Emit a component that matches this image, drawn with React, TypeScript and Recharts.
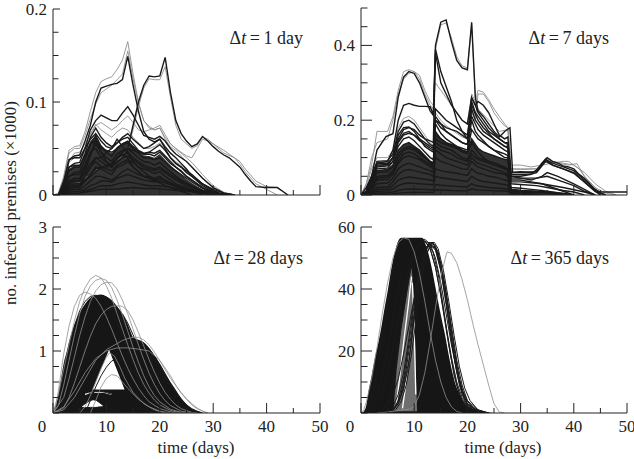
import React from 'react';
import { ComposedChart, Line, Area, XAxis, YAxis } from 'recharts';

type Pt = [number, number];
type Band = [number, number, number];

const FONT = "'Liberation Serif', 'Times New Roman', serif";
const INK = '#1a1a1a';
const GREY = '#8e8e8e';
const CORE = '#323232';

// ---------- tick arrays ----------
const xTicks = [0, 5, 10, 15, 20, 25, 30, 35, 40, 45, 50];
const xLabelTicks = [0, 10, 20, 30, 40, 50];
const dt1YTicks = [0, 0.025, 0.05, 0.075, 0.1, 0.125, 0.15, 0.175, 0.2];
const dt1YLabels = [0, 0.1, 0.2];
const dt7YTicks = [0, 0.05, 0.1, 0.15, 0.2, 0.25, 0.3, 0.35, 0.4, 0.45, 0.5];
const dt7YLabels = [0, 0.2, 0.4];
const dt28YTicks = [0, 0.25, 0.5, 0.75, 1, 1.25, 1.5, 1.75, 2, 2.25, 2.5, 2.75, 3];
const dt28YLabels = [1, 2, 3];
const dt365YTicks = [0, 5, 10, 15, 20, 25, 30, 35, 40, 45, 50, 55, 60];
const dt365YLabels = [20, 40, 60];

// ---------- Δt = 1 day ----------
const dt1Core: Band[] = [
  [1,0,0],[2,0,.008],[3,0,.028],[4,0,.032],[5,0,.032],[6,0,.044],[7,0,.058],[8,0,.064],[9,0,.054],[10,0,.048],[11,0,.045],[12,0,.052],[13,0,.056],[14,0,.058],[15,0,.052],[16,0,.046],[17,0,.042],[18,0,.042],[19,0,.04],[20,0,.044],[21,0,.038],[22,0,.032],[23,0,.027],[24,0,.022],[25,0,.017],[26,0,.013],[28,0,.006],[30,0,.002],[31,0,0],
];
const dt1Black: Pt[][] = [
  [[0,0],[1,0],[2,.015],[3,.038],[4,.042],[5,.043],[6,.058],[7,.075],[8,.1],[9,.115],[10,.117],[11,.119],[12,.12],[13,.124],[14,.149],[15,.118],[16,.09],[17,.068],[18,.06],[19,.057],[20,.06],[21,.052],[22,.045],[23,.04],[24,.034],[25,.028],[26,.02],[28,.01],[30,.004],[32,0]],
  [[0,0],[1,0],[2,.004],[3,.01],[4,.012],[5,.012],[6,.016],[7,.02],[8,.025],[9,.03],[10,.03],[11,.032],[12,.035],[13,.04],[14,.05],[15,.075],[16,.1],[17,.118],[18,.128],[19,.127],[20,.128],[21,.148],[22,.11],[23,.08],[24,.066],[25,.058],[26,.052],[27,.055],[28,.063],[29,.058],[30,.052],[31,.047],[32,.043],[33,.04],[34,.035],[35,.03],[36,.022],[37,.015],[38,.009],[40,.008],[42,.008],[43,.004],[44,0]],
  [[0,0],[1,0],[2,.01],[3,.03],[4,.034],[5,.035],[6,.05],[7,.07],[8,.08],[9,.086],[10,.083],[11,.08],[12,.08],[13,.088],[14,.095],[15,.086],[16,.075],[17,.064],[18,.062],[19,.06],[20,.063],[21,.058],[22,.05],[23,.044],[24,.04],[25,.036],[26,.03],[28,.018],[30,.008],[32,.002],[34,0]],
  [[0,0],[1,0],[2,.01],[3,.026],[4,.03],[5,.03],[6,.045],[7,.062],[8,.072],[9,.062],[10,.056],[11,.052],[12,.056],[13,.062],[14,.066],[15,.06],[16,.055],[17,.05],[18,.052],[19,.056],[20,.06],[21,.05],[22,.04],[23,.034],[24,.03],[25,.026],[26,.022],[28,.012],[30,.005],[32,0]],
  [[0,0],[1,0],[2,.008],[3,.02],[4,.024],[5,.025],[6,.038],[7,.054],[8,.064],[9,.052],[10,.046],[11,.042],[12,.05],[13,.055],[14,.058],[15,.052],[16,.047],[17,.043],[18,.044],[19,.042],[20,.046],[21,.04],[22,.034],[23,.03],[24,.025],[25,.02],[26,.016],[28,.008],[30,.003],[32,0]],
  [[0,0],[1,0],[2,.006],[3,.015],[4,.018],[5,.018],[6,.03],[7,.045],[8,.055],[9,.046],[10,.04],[11,.036],[12,.044],[13,.048],[14,.05],[15,.045],[16,.04],[17,.036],[18,.035],[19,.032],[20,.035],[21,.03],[22,.025],[23,.02],[24,.016],[25,.013],[26,.01],[28,.005],[30,.002],[31,0]],
  [[0,0],[1,0],[2,.005],[3,.012],[4,.015],[5,.015],[6,.026],[7,.042],[8,.06],[9,.046],[10,.036],[11,.03],[12,.04],[13,.044],[14,.04],[15,.03],[16,.025],[17,.02],[18,.02],[19,.018],[20,.02],[21,.015],[22,.012],[23,.01],[24,.008],[25,.006],[26,.004],[28,0]],
  [[0,0],[1,0],[2,.004],[3,.01],[4,.012],[5,.012],[6,.02],[7,.03],[8,.036],[9,.03],[10,.028],[11,.026],[12,.032],[13,.035],[14,.038],[15,.035],[16,.03],[17,.028],[18,.026],[19,.023],[20,.025],[21,.02],[22,.016],[23,.012],[24,.01],[25,.008],[26,.006],[28,.003],[30,0]],
  [[0,0],[1,0],[2,.003],[3,.008],[4,.01],[5,.01],[6,.02],[7,.03],[8,.04],[9,.04],[10,.046],[11,.05],[12,.06],[13,.052],[14,.046],[15,.036],[16,.03],[17,.025],[18,.02],[19,.016],[20,.013],[21,.01],[22,.008],[23,.006],[24,.004],[25,.002],[26,0]],
  [[0,0],[1,0],[2,.003],[3,.006],[4,.008],[5,.008],[6,.015],[7,.022],[8,.03],[9,.028],[10,.025],[11,.022],[12,.03],[13,.032],[14,.036],[15,.03],[16,.025],[17,.02],[18,.018],[19,.015],[20,.018],[21,.015],[22,.012],[23,.01],[24,.008],[25,.006],[26,.004],[28,.002],[30,0]],
  [[0,0],[1,0],[2,.002],[3,.005],[4,.006],[5,.006],[6,.01],[7,.015],[8,.02],[9,.02],[10,.018],[11,.016],[12,.02],[13,.025],[14,.028],[15,.025],[16,.022],[17,.02],[18,.018],[19,.016],[20,.018],[21,.016],[22,.013],[23,.01],[24,.008],[25,.006],[26,.005],[28,.003],[30,.001],[31,0]],
  [[0,0],[1,0],[2,.001],[3,.003],[4,.004],[5,.004],[6,.006],[7,.01],[8,.012],[9,.015],[10,.015],[11,.014],[12,.018],[13,.02],[14,.022],[15,.02],[16,.018],[17,.016],[18,.015],[19,.014],[20,.015],[21,.013],[22,.011],[23,.009],[24,.007],[25,.005],[26,.004],[28,.002],[30,0]],
  [[0,0],[1,0],[2,.001],[3,.002],[4,.002],[5,.002],[6,.004],[7,.006],[8,.008],[9,.01],[10,.01],[11,.01],[12,.012],[13,.013],[14,.014],[15,.013],[16,.012],[17,.011],[18,.01],[19,.01],[20,.01],[21,.009],[22,.008],[23,.007],[24,.006],[25,.005],[26,.004],[28,.003],[30,.002],[32,.001],[34,0]],
  [[0,0],[2,0],[3,.001],[5,.002],[7,.004],[9,.006],[11,.006],[13,.007],[15,.008],[17,.007],[19,.007],[21,.006],[23,.005],[25,.004],[27,.003],[30,.002],[34,0]],
  [[0,0],[1,0],[2,.006],[3,.02],[4,.022],[5,.022],[6,.032],[7,.046],[8,.05],[9,.04],[10,.035],[11,.032],[12,.04],[13,.043],[14,.046],[15,.04],[16,.036],[17,.032],[18,.03],[19,.028],[20,.03],[21,.026],[22,.022],[23,.018],[24,.015],[25,.012],[26,.009],[28,.005],[30,.002],[31,0]],
  [[0,0],[1,0],[2,.012],[3,.038],[4,.04],[5,.04],[6,.05],[7,.06],[8,.066],[9,.058],[10,.052],[11,.05],[12,.056],[13,.06],[14,.062],[15,.055],[16,.048],[17,.045],[18,.046],[19,.045],[20,.048],[21,.042],[22,.036],[23,.03],[24,.026],[25,.02],[26,.016],[28,.008],[30,.003],[32,0]],
  [[0,0],[1,0],[2,.003],[3,.008],[4,.01],[5,.01],[6,.016],[7,.022],[8,.028],[9,.03],[10,.032],[11,.034],[12,.04],[13,.046],[14,.05],[15,.048],[16,.046],[17,.044],[18,.046],[19,.05],[20,.054],[21,.048],[22,.04],[23,.034],[24,.03],[25,.024],[26,.02],[28,.012],[30,.006],[32,.002],[34,0]],
  [[0,0],[1,0],[2,.008],[3,.03],[4,.032],[5,.032],[6,.042],[7,.055],[8,.058],[9,.05],[10,.048],[11,.046],[12,.05],[13,.054],[14,.056],[15,.05],[16,.045],[17,.04],[18,.04],[19,.038],[20,.04],[21,.035],[22,.03],[23,.026],[24,.022],[25,.018],[26,.014],[28,.007],[30,.002],[31,0]],
  [[0,0],[1,0],[2,.004],[3,.014],[4,.016],[5,.016],[6,.024],[7,.034],[8,.04],[9,.036],[10,.032],[11,.03],[12,.036],[13,.04],[14,.042],[15,.038],[16,.034],[17,.03],[18,.028],[19,.026],[20,.028],[21,.024],[22,.02],[23,.016],[24,.013],[25,.01],[26,.008],[28,.004],[30,0]],
];
const dt1Grey: Pt[][] = [
  [[0,0],[1,0],[2,.004],[3,.01],[4,.012],[5,.013],[6,.018],[7,.022],[8,.027],[9,.03],[10,.032],[11,.034],[12,.036],[13,.042],[14,.05],[15,.07],[16,.095],[17,.115],[18,.125],[19,.124],[20,.124],[21,.138],[22,.105],[23,.075],[24,.06],[25,.055],[26,.05],[27,.053],[28,.062],[29,.06],[30,.055],[32,.045],[34,.04],[35,.036],[36,.028],[38,.015],[40,.009],[42,.008],[44,0]],
  [[0,0],[1,.002],[2,.02],[3,.048],[4,.052],[5,.053],[6,.068],[7,.09],[8,.11],[9,.122],[10,.125],[11,.127],[12,.135],[13,.145],[14,.165],[15,.13],[16,.1],[17,.08],[18,.072],[19,.07],[20,.072],[21,.06],[22,.052],[23,.048],[24,.042],[25,.036],[26,.03],[28,.018],[30,.008],[32,.002],[34,0]],
  [[0,0],[1,0],[2,.012],[3,.035],[4,.04],[5,.04],[6,.052],[7,.065],[8,.075],[9,.078],[10,.074],[11,.07],[12,.074],[13,.08],[14,.085],[15,.078],[16,.07],[17,.068],[18,.07],[19,.072],[20,.075],[21,.065],[22,.055],[23,.05],[24,.046],[25,.042],[26,.04],[27,.05],[28,.06],[29,.058],[30,.055],[32,.048],[34,.04],[35,.033],[36,.025],[38,.012],[40,.006],[42,0]],
  [[0,0],[1,0],[2,.012],[3,.036],[4,.045],[5,.046],[6,.055],[7,.066],[8,.076],[9,.07],[10,.066],[11,.062],[12,.068],[13,.072],[14,.07],[15,.062],[16,.056],[17,.05],[18,.05],[19,.052],[20,.056],[21,.048],[22,.04],[23,.036],[24,.032],[25,.028],[26,.022],[28,.012],[30,.005],[32,0]],
  [[0,0],[1,0],[2,.018],[3,.045],[4,.05],[5,.05],[6,.064],[7,.082],[8,.098],[9,.11],[10,.114],[11,.118],[12,.124],[13,.13],[14,.155],[15,.125],[16,.098],[17,.08],[18,.074],[19,.07],[20,.072],[21,.062],[22,.055],[23,.05],[24,.045],[25,.04],[26,.035],[28,.022],[30,.01],[32,.003],[34,0]],
];

// ---------- Δt = 7 days ----------
const dt7Core: Band[] = [
  [0,0,0],[1,0,.006],[2,0,.035],[3,0,.065],[5,0,.068],[6,0,.08],[7,0,.12],[8,0,.135],[9,0,.14],[10,0,.13],[11,0,.12],[12,0,.105],[13,0,.09],[13.6,0,.085],[14,0,.17],[15,0,.15],[16,0,.14],[17,0,.135],[18,0,.13],[19,0,.12],[20,0,.115],[20.8,0,.15],[21.5,0,.135],[22,0,.125],[23,0,.115],[24,0,.11],[25,0,.105],[26,0,.1],[27,0,.095],[27.6,0,.095],[28.2,0,.015],[30,0,.012],[33,0,.01],[35,0,.008],[38,0,.004],[40,0,0],
];
const dt7Black: Pt[][] = [
  [[0,0],[1,.02],[2,.05],[3,.12],[4.7,.156],[6,.164],[7,.262],[8,.315],[9,.33],[10,.325],[11,.3],[12,.262],[13,.225],[13.6,.213],[14,.4],[15,.462],[16,.468],[17,.41],[18,.36],[19,.34],[20,.335],[20.8,.462],[21.5,.26],[22,.225],[23,.21],[24,.19],[25,.17],[26,.155],[27,.17],[28,.18],[28.5,.06],[30,.062],[32,.06],[33,.065],[34,.085],[35,.1],[36,.09],[37,.085],[38,.078],[39,.075],[40,.07],[41,.055],[42,.045],[43,.03],[44,.012],[45,.005],[46,0]],
  [[0,0],[1,.01],[2,.04],[3,.085],[5,.09],[6,.12],[7,.2],[8,.24],[9,.245],[10,.24],[11,.237],[12,.237],[13,.236],[13.6,.215],[14,.38],[15,.3],[16,.27],[17,.24],[18,.22],[19,.2],[20,.19],[20.8,.26],[21.5,.24],[22,.25],[23,.24],[24,.22],[25,.19],[26,.16],[27,.15],[27.6,.155],[28.2,.05],[30,.045],[32,.04],[34,.05],[35,.06],[37,.05],[40,.03],[42,.015],[44,0]],
  [[0,0],[1,.01],[2,.05],[3,.085],[5,.085],[6,.1],[7,.16],[8,.18],[9,.182],[10,.17],[11,.15],[12,.13],[13,.12],[13.6,.115],[14,.21],[15,.19],[16,.17],[17,.16],[18,.15],[19,.14],[20,.135],[20.8,.25],[21.5,.22],[22,.21],[23,.19],[24,.17],[25,.16],[26,.15],[27,.14],[27.6,.14],[28.2,.06],[30,.06],[33,.062],[34.7,.095],[36,.085],[38,.075],[40,.065],[42,.04],[44,.015],[45,.008],[50,.008]],
  [[0,0],[1,.005],[2,.04],[3,.075],[5,.078],[6,.09],[7,.13],[8,.15],[9,.155],[10,.145],[11,.13],[12,.115],[13,.1],[13.6,.095],[14,.19],[15,.165],[16,.15],[17,.14],[18,.13],[19,.125],[20,.12],[20.8,.2],[21.5,.17],[22,.16],[23,.145],[24,.13],[25,.12],[26,.11],[27,.1],[27.6,.1],[28.2,.03],[30,.028],[33,.025],[35,.02],[38,.012],[40,.008],[42,0]],
  [[0,0],[1,.005],[2,.03],[3,.065],[5,.068],[6,.08],[7,.12],[8,.135],[9,.14],[10,.13],[11,.12],[12,.105],[13,.09],[13.6,.085],[14,.17],[15,.15],[16,.14],[17,.135],[18,.13],[19,.12],[20,.115],[20.8,.15],[21.5,.135],[22,.125],[23,.115],[24,.11],[25,.105],[26,.1],[27,.095],[27.6,.095],[28.2,.015],[30,.012],[33,.01],[35,.008],[38,.004],[40,0]],
  [[0,0],[1,.004],[2,.02],[3,.05],[5,.052],[6,.065],[7,.1],[8,.12],[9,.125],[10,.12],[11,.11],[12,.1],[13,.085],[13.6,.08],[14,.15],[15,.14],[16,.135],[17,.13],[18,.125],[19,.115],[20,.11],[20.8,.14],[21.5,.125],[22,.115],[23,.1],[24,.09],[25,.085],[26,.08],[27,.07],[27.6,.065],[28.2,.01],[30,.008],[34,.006],[38,0]],
  [[0,0],[1,.003],[2,.018],[3,.04],[5,.042],[6,.055],[7,.085],[8,.1],[9,.105],[10,.1],[11,.095],[12,.085],[13,.075],[13.6,.07],[14,.14],[15,.13],[16,.125],[17,.12],[18,.11],[19,.1],[20,.095],[20.8,.12],[21.5,.11],[22,.1],[23,.095],[24,.09],[25,.085],[26,.08],[27,.075],[27.6,.07],[28.2,.02],[30,.018],[32,.015],[34,.012],[36,.008],[40,0]],
  [[0,0],[1,.003],[2,.015],[3,.03],[5,.032],[6,.045],[7,.07],[8,.08],[9,.085],[10,.08],[11,.075],[12,.07],[13,.065],[13.6,.06],[14,.12],[15,.11],[16,.1],[17,.095],[18,.09],[19,.085],[20,.08],[20.8,.1],[21.5,.09],[22,.085],[23,.08],[24,.075],[25,.07],[26,.065],[27,.06],[27.6,.055],[28.2,.012],[30,.01],[34,.008],[38,0]],
  [[0,0],[1,.002],[2,.01],[3,.02],[5,.022],[6,.035],[7,.055],[8,.065],[9,.068],[10,.065],[11,.062],[12,.058],[13,.055],[13.6,.05],[14,.1],[15,.09],[16,.085],[17,.08],[18,.075],[19,.07],[20,.068],[20.8,.09],[21.5,.08],[22,.075],[23,.07],[24,.065],[25,.06],[26,.058],[27,.055],[27.6,.05],[28.2,.008],[30,.006],[34,0]],
  [[0,0],[1,.002],[2,.008],[3,.015],[5,.016],[6,.025],[7,.04],[8,.045],[9,.048],[10,.046],[11,.044],[12,.042],[13,.04],[13.6,.038],[14,.07],[15,.065],[16,.062],[17,.06],[18,.058],[19,.055],[20,.052],[20.8,.07],[21.5,.062],[22,.058],[23,.055],[24,.05],[25,.048],[26,.045],[27,.04],[27.6,.038],[28.2,.005],[32,0]],
  [[0,0],[1,.001],[2,.005],[3,.01],[5,.011],[6,.016],[7,.025],[8,.03],[9,.032],[10,.031],[11,.03],[12,.029],[13,.028],[13.6,.027],[14,.05],[15,.046],[16,.044],[17,.042],[18,.04],[19,.038],[20,.036],[20.8,.05],[21.5,.044],[22,.04],[23,.036],[24,.034],[25,.032],[26,.03],[27,.028],[27.6,.026],[28.2,.004],[32,0]],
  [[0,0],[1,.001],[2,.003],[3,.005],[5,.006],[6,.008],[7,.012],[8,.015],[9,.016],[10,.016],[11,.015],[12,.015],[13,.014],[13.6,.014],[14,.028],[15,.026],[16,.025],[17,.024],[18,.023],[19,.022],[20,.021],[20.8,.03],[21.5,.026],[22,.024],[24,.02],[26,.018],[27.6,.016],[28.2,.003],[32,0]],
  [[0,0],[2,.001],[3,.002],[6,.003],[7,.005],[9,.007],[13.6,.007],[14,.014],[17,.012],[20,.011],[20.8,.016],[22,.013],[27.6,.01],[28.2,.002],[32,0]],
  [[0,0],[1,.01],[2,.04],[3,.08],[5,.08],[6,.1],[7,.15],[8,.175],[9,.18],[10,.175],[11,.16],[12,.15],[13,.145],[13.6,.14],[14,.39],[15,.33],[16,.29],[17,.25],[18,.2],[19,.17],[20,.15],[20.8,.26],[21.5,.24],[22,.22],[23,.2],[24,.18],[25,.165],[26,.15],[27,.14],[27.6,.135],[28.2,.05],[30,.05],[32,.055],[34,.08],[34.7,.095],[36,.08],[38,.07],[40,.06],[42,.035],[44,.01],[46,0]],
  [[0,0],[1,.004],[2,.03],[3,.06],[5,.062],[6,.075],[7,.11],[8,.125],[9,.13],[10,.125],[11,.115],[12,.1],[13,.09],[13.6,.085],[14,.16],[15,.15],[16,.14],[17,.13],[18,.125],[19,.12],[20,.115],[20.8,.175],[21.5,.16],[22,.15],[23,.14],[24,.13],[25,.12],[26,.115],[27,.11],[27.6,.105],[28.2,.04],[30,.04],[32,.035],[34,.03],[36,.02],[38,.01],[40,0]],
  [[0,0],[1,.003],[2,.02],[3,.045],[5,.048],[6,.06],[7,.09],[8,.11],[9,.115],[10,.11],[11,.1],[12,.09],[13,.08],[13.6,.075],[14,.13],[15,.12],[16,.115],[17,.11],[18,.1],[19,.095],[20,.09],[20.8,.11],[21.5,.1],[22,.095],[23,.09],[24,.085],[25,.08],[26,.075],[27,.07],[27.6,.068],[28.2,.015],[30,.012],[34,.008],[38,0]],
  [[0,0],[1,.01],[2,.05],[3,.09],[5,.092],[6,.11],[7,.17],[8,.195],[9,.2],[10,.19],[11,.17],[12,.15],[13,.135],[13.6,.13],[14,.2],[15,.18],[16,.17],[17,.16],[18,.15],[19,.14],[20,.135],[20.8,.23],[21.5,.2],[22,.19],[23,.17],[24,.16],[25,.15],[26,.14],[27,.13],[27.6,.13],[28.2,.055],[30,.055],[32,.056],[33,.06],[34.7,.09],[36,.08],[38,.07],[40,.058],[42,.035],[44,.01],[45,0]],
  [[0,0],[1,.008],[2,.045],[3,.08],[5,.082],[6,.1],[7,.145],[8,.165],[9,.17],[10,.16],[11,.145],[12,.135],[13,.125],[13.6,.12],[14,.23],[15,.215],[16,.2],[17,.19],[18,.18],[19,.17],[20,.16],[20.8,.24],[21.5,.215],[22,.2],[23,.18],[24,.165],[25,.15],[26,.14],[27,.13],[27.6,.125],[28.2,.045],[30,.045],[33,.045],[35,.05],[38,.035],[40,.025],[42,.01],[44,0]],
  [[0,0],[1,.006],[2,.035],[3,.07],[5,.072],[6,.09],[7,.14],[8,.16],[9,.165],[10,.16],[11,.15],[12,.14],[13,.13],[13.6,.125],[14,.2],[15,.19],[16,.18],[17,.175],[18,.17],[19,.16],[20,.15],[20.8,.21],[21.5,.19],[22,.175],[23,.16],[24,.15],[25,.14],[26,.13],[27,.12],[27.6,.115],[28.2,.035],[30,.035],[34,.03],[38,.02],[42,.008],[44,0]],
];
const dt7Grey: Pt[][] = [
  [[0,0],[1,.03],[2,.08],[3,.17],[5,.17],[6,.21],[7,.28],[8,.33],[9,.335],[10,.33],[11,.31],[12,.27],[13,.24],[13.6,.23],[14,.39],[15,.455],[16,.46],[17,.42],[18,.37],[19,.345],[20,.34],[20.8,.455],[21.5,.25],[22,.23],[24,.2],[26,.17],[27.6,.175],[28.2,.07],[30,.07],[33,.07],[34.7,.098],[36,.09],[38,.085],[40,.08],[41,.07],[42,.05],[44,.02],[45,0]],
  [[0,0],[1,.02],[2,.07],[3,.1],[5,.1],[6,.12],[7,.18],[8,.205],[9,.21],[10,.2],[11,.18],[12,.16],[13,.14],[13.6,.13],[14,.22],[15,.2],[16,.185],[17,.175],[18,.165],[19,.155],[20,.15],[20.8,.22],[21.5,.2],[22,.27],[23,.27],[24,.25],[25,.22],[26,.2],[27,.185],[27.6,.18],[28.2,.07],[30,.068],[33,.07],[35,.09],[37,.085],[39,.08],[40.6,.084],[42,.05],[44,.02],[46,.005],[48,0]],
  [[0,0],[1,.03],[2,.1],[3,.14],[5,.15],[6,.2],[7,.27],[8,.31],[9,.325],[10,.33],[11,.32],[12,.28],[13,.25],[13.6,.24],[14,.3],[15,.28],[16,.26],[17,.24],[18,.22],[19,.2],[20,.19],[20.8,.27],[21.5,.25],[22,.28],[23,.275],[24,.255],[25,.23],[26,.21],[27,.19],[27.6,.18],[28.2,.08],[30,.08],[32,.075],[34,.08],[36,.085],[38,.09],[39,.09],[40,.08],[42,.06],[44,.03],[46,.01],[48,0]],
];

// ---------- Δt = 28 days ----------
const dt28Mass: Band[] = [
  [0,0,0],[0.3,0,0.05],[1,0,0.3],[1.5,0,0.55],[2,0,0.8],[2.6,0,1.0],[3,0,1.15],[4,0,1.42],[5,0,1.62],[6,0,1.76],[7,0,1.86],[8,0,1.9],[9,0,1.91],[10,0,1.88],[11,0,1.82],[12,0,1.72],[13,0,1.6],[14,0,1.43],[14.5,0,1.32],[15,0,1.22],[16,0,1.18],[17,0,1.14],[18,0,1.05],[19,0,0.93],[20,0,0.8],[21,0,0.65],[22,0,0.5],[23,0,0.37],[24,0,0.24],[25,0,0.14],[26,0,0.07],[27,0,0.03],[28,0,0],
];
const dt28Hole: Band[] = [[7.4,0.38,0.38],[10.5,0.38,1.02],[13.4,0.38,0.38]];
const dt28Lens: Band[] = [[5.3,0.1,0.1],[6.3,0.09,0.17],[7.5,0.09,0.21],[8.5,0.1,0.18],[9.4,0.11,0.11]];
const dt28Black: Pt[][] = [
  [[0,0],[1,.2],[2,.62],[3,1.05],[4,1.4],[5,1.65],[6,1.8],[7,1.88],[8,1.9],[9,1.88],[10,1.8],[11,1.65],[12,1.45],[13,1.22],[14,1.0],[15,.78],[16,.58],[17,.42],[18,.28],[19,.18],[20,.1],[22,.03],[24,0]],
  [[0,0],[1,.1],[2,.4],[3,.78],[4,1.1],[5,1.4],[6,1.6],[7,1.75],[8,1.84],[9,1.88],[10,1.87],[11,1.8],[12,1.66],[13,1.48],[14,1.25],[15,1.02],[16,.8],[17,.6],[18,.42],[19,.28],[20,.18],[21,.1],[22,.05],[24,.01],[25,0]],
  [[0,0],[2,.1],[3,.3],[4,.55],[5,.8],[6,1.05],[7,1.25],[8,1.42],[9,1.55],[10,1.64],[11,1.69],[12,1.68],[13,1.6],[14,1.45],[15,1.26],[16,1.05],[17,.84],[18,.64],[19,.46],[20,.32],[21,.2],[22,.12],[24,.03],[26,0]],
  [[0,0],[2,.05],[4,.25],[6,.55],[8,.85],[10,1.05],[12,1.12],[13,1.14],[14,1.15],[15,1.15],[16,1.15],[17,1.12],[18,1.04],[19,.92],[20,.78],[21,.62],[22,.47],[23,.34],[24,.22],[25,.13],[26,.07],[27,.03],[28,0]],
  [[0,0],[1,.05],[2,.2],[3,.4],[4,.6],[5,.78],[6,.93],[7,1.05],[8,1.14],[9,1.2],[10,1.22],[11,1.22],[12,1.2],[13,1.18],[14,1.17],[15,1.18],[16,1.16],[17,1.1],[18,1.0],[19,.88],[20,.74],[21,.6],[22,.46],[23,.33],[24,.21],[25,.12],[26,.05],[27,.02],[28,0]],
  [[6,0],[7,.2],[8,.42],[9,.6],[10,.74],[11,.84],[12,.88],[13,.86],[14,.78],[16,.55],[18,.32],[20,.15],[22,.05],[24,0]],
  [[2,0],[3,.05],[4,.12],[5,.2],[6,.27],[7,.32],[8,.35],[9,.35],[10,.33],[11,.3],[12,.26],[13,.21],[14,.16],[15,.12],[16,.08],[18,.03],[20,0]],
  [[3,0],[4,.03],[5,.08],[6,.15],[7,.2],[7.5,.215],[8,.21],[9,.15],[10,.09],[11,.05],[12,.02],[14,0]],
  [[3,0],[4,.02],[5,.06],[6,.085],[7,.09],[8,.09],[9,.095],[10,.09],[11,.07],[12,.05],[14,.02],[16,0]],
];
const dt28Grey: Pt[][] = [
  [[0,0],[1,.3],[2,.7],[3,1.1],[4,1.48],[5,1.8],[6,2.02],[7,2.16],[8,2.22],[9,2.18],[10,2.05],[11,1.85],[12,1.6],[13,1.35],[14,1.1],[15,.86],[16,.64],[17,.46],[18,.32],[19,.21],[20,.13],[22,.04],[24,0]],
  [[0,0],[1,.12],[2,.45],[3,.85],[4,1.25],[5,1.6],[6,1.88],[7,2.05],[8,2.14],[9,2.17],[10,2.14],[11,2.02],[12,1.82],[13,1.58],[14,1.32],[15,1.06],[16,.82],[17,.6],[18,.42],[19,.28],[20,.18],[22,.06],[24,.01],[25,0]],
  [[0,0],[2,.25],[3,.55],[4,.9],[5,1.25],[6,1.55],[7,1.8],[8,1.97],[9,2.07],[10,2.11],[11,2.1],[12,2.0],[13,1.82],[14,1.6],[15,1.35],[16,1.1],[17,.86],[18,.64],[19,.46],[20,.31],[21,.2],[22,.12],[24,.03],[26,0]],
  [[0,0],[2,.08],[3,.25],[4,.48],[5,.74],[6,1.0],[7,1.24],[8,1.44],[9,1.58],[10,1.67],[11,1.72],[12,1.73],[13,1.72],[14,1.65],[15,1.5],[16,1.3],[17,1.08],[18,.86],[19,.66],[20,.48],[21,.33],[22,.22],[23,.13],[24,.07],[26,.01],[27,0]],
  [[0,0],[2,.05],[4,.25],[6,.55],[8,.85],[10,1.02],[12,1.12],[13,1.17],[14,1.2],[15,1.22],[16,1.22],[17,1.18],[18,1.1],[19,.98],[20,.84],[21,.7],[22,.56],[23,.44],[24,.33],[25,.23],[26,.15],[27,.08],[28,.03],[29,0]],
  [[0,0],[2,.1],[4,.35],[6,.65],[8,.88],[10,1.0],[12,1.05],[14,1.05],[16,1.03],[18,1.0],[20,.85],[22,.6],[23,.45],[24,.32],[25,.22],[26,.13],[27,.07],[28,.03],[29,0]],
  [[0,0],[0.5,.1],[1,.35],[1.5,.65],[2,.95],[3,1.4],[4,1.72],[5,1.9],[6,1.95],[7,1.92],[8,1.85],[9,1.72],[10,1.55],[11,1.35],[12,1.13],[13,.92],[14,.72],[15,.55],[16,.4],[17,.28],[18,.18],[20,.07],[22,.02],[23,0]],
  [[5,0],[6,.1],[7,.28],[8,.5],[9,.72],[10,.9],[10.6,.97],[11.5,.92],[12.5,.75],[13.5,.55],[15,.33],[17,.15],[19,.05],[21,0]],
  [[7,0],[8,.2],[9,.42],[10,.56],[11,.62],[12,.6],[13,.5],[14,.4],[16,.22],[18,.1],[20,.03],[22,0]],
];
const dt28Gaps: Pt[][] = [
  [[6,.3],[7.5,.335],[9.5,.335],[11,.3]],
];

// ---------- Δt = 365 days ----------
const dt365Mass: Band[] = [
  [0,0,0],[0.5,0,0.5],[1,0,2.5],[1.4,0,6.9],[2,0,12],[2.6,0,17.7],[3.3,0,23],[3.9,0,28.4],[4.5,0,34.5],[5.1,0,40.2],[5.6,0,45.5],[6.1,0,50],[6.6,0,53.5],[7,0,55.5],[7.6,0,56.5],[11.5,0,56.5],[12,0,55],[12.5,0,52.5],[13.3,0,46.8],[14,0,40.5],[14.5,0,35.9],[15.2,0,30],[15.8,0,25.2],[16.4,0,19.5],[17,0,14.4],[17.6,0,10.2],[18.3,0,6.9],[19.2,0,3.8],[20.2,0,2],[21.5,0,1],[22.7,0,0.5],[24,0,0.15],[25,0,0],
];
// sparse region between the early and the late runs (filled with thin lines in the original)
const dt365Wedge: Band[] = [
  [6.1,0.6,0.6],[6.7,0.6,14],[7.6,0.6,27],[8.6,0.6,38],[9.5,0.6,47],[9.8,0.6,41],[10.1,0.6,27],[10.35,0.6,11],[10.55,0.6,0.6],
];
const dt365Gaps: Pt[][] = [
  [[6.6,2],[7.3,12],[8.1,24],[8.9,35],[9.5,44]],
  [[9.65,42],[9.9,32],[10.1,20],[10.3,6]],
  [[7.8,1.5],[8.4,9],[9,19],[9.4,28]],
];
const dt365Black: Pt[][] = [
  [[0.5,0],[1.5,2],[2.5,8],[3.5,18],[4.5,30],[5.5,42],[6.5,51],[7.5,55.5],[9,56],[11,56],[12.5,55],[13.5,52],[14.5,45],[15.5,34],[16.5,22],[17.5,12],[18.5,6],[19.5,2.5],[21,.8],[23,0]],
  [[1,0],[2,1],[3,3],[4,7],[5,13],[6,21],[7,30],[8,39],[9,46.5],[10,52],[11,55],[12,55.5],[13,53],[14,47],[15,38],[16,28],[17,18],[18,10],[19,5],[20,2],[22,.3],[23,0]],
  [[1,0],[2,2],[3,6],[4,12],[5,20],[6,30],[7,40],[8,48],[9,53],[10,55.5],[11,56],[12,56],[13,54.5],[14,50],[15,42],[16,32],[17,22],[18,13.5],[19,7.5],[20,4],[21,2],[22,.8],[24,0]],
  [[4,0],[5,.5],[6,2],[7,6],[8,13],[9,24],[10,37],[11,47],[12,53],[13,55],[14,53],[15,46],[16,35],[17,23],[18,13],[19,6],[20,2.5],[22,.5],[24,0]],
  [[5,0],[6,1],[7,4],[8,11],[9,22],[10,35],[11,46],[12,52.5],[13,55],[14,54],[15,48],[16,38],[17,26],[18,15],[19,7],[20,3],[22,.5],[24,0]],
  [[5.5,0],[6.5,1],[7.5,3.5],[8.5,9],[9.5,19],[10.5,32],[11.5,44],[12.5,52],[13.5,55],[14.5,52],[15.5,44],[16.5,33],[17.5,21],[18.5,11],[19.5,5],[21,1.5],[23,0]],
  [[5,0],[6,.8],[7,3],[8,8],[8.8,14],[9.6,25],[10.4,38],[11.2,47],[12,52],[13,54.5],[14,52.5],[15,46],[16,36],[17,24],[18,14],[19,7],[20,3],[22,.6],[24,0]],
  [[3,0],[4,1],[5,3],[5.6,6],[6.2,12],[7,22],[8,33],[9,44],[10,51],[11,54.5],[12,55.5],[13,53],[14,47],[15,38],[16,27],[17,17],[18,9],[19,4],[21,1],[23,0]],
  [[3,0],[4,1],[5,2.5],[6,6],[7,11],[8,19],[9,28],[10,37],[11,45],[12,51],[12.8,55],[13.8,55],[14.5,53],[15.5,46],[16.5,36],[17.5,25],[18.5,15],[19.5,8],[20.5,4],[22,1],[24,0]],
  [[5,0],[6,1],[7,3],[8,8],[9,17],[10,30],[11,42],[12,50],[13,54],[14,53],[15,48],[16,39],[17,28],[18,17],[19,9],[20,4],[22,1],[24,0]],
  [[4.5,0],[5.5,.5],[6.5,2],[7.5,6],[8.5,14],[9.5,26],[10.5,39],[11.5,49],[12.5,54],[13.5,55],[14.5,51],[15.5,42],[16.5,30],[17.5,18],[18.5,9],[19.5,4],[21,1],[23,0]],
];
const dt365Grey: Pt[][] = [
  [[3,0],[5,.3],[7,.8],[9,1.2],[10,2],[11,6],[12,13],[13,23],[14,34],[15,44],[16,51],[16.2,52],[17,51.5],[18,48.5],[19,43],[20,36.5],[21,29],[22,22],[23,15.5],[24,9],[25,3],[26,.3],[27,0]],
  [[0,0],[0.5,1],[1,3.5],[2,11],[3,21],[4,32],[5,42],[6,50],[7,55],[8,56.5],[9,56],[10,52],[11,45],[12,36],[13,26],[14,17],[15,10],[16,5],[17,2],[18,.5],[19,0]],
];

// ---------- helpers ----------
const toRows = (pts: Pt[]) => pts.map(([t, v]) => ({ t, v }));
const toBand = (rows: Band[]) => rows.map(([t, lo, hi]) => ({ t, r: [lo, hi] }));

const lines = (curves: Pt[][], color: string, width: number, prefix: string) =>
  curves.map((c, i) => (
    <Line
      key={prefix + i}
      data={toRows(c)}
      dataKey="v"
      type="linear"
      stroke={color}
      strokeWidth={width}
      dot={false}
      activeDot={false}
      isAnimationActive={false}
    />
  ));

const band = (rows: Band[], fill: string, key: string, curve: 'linear' | 'monotone') => (
  <Area
    key={key}
    data={toBand(rows)}
    dataKey="r"
    type={curve}
    stroke="none"
    fill={fill}
    fillOpacity={1}
    dot={false}
    activeDot={false}
    isAnimationActive={false}
  />
);

const makeXTick = (showLabels: boolean) => (props: any) => {
  const { x, y, payload } = props;
  const v = payload.value as number;
  const major = v % 10 === 0;
  return (
    <g>
      <line x1={x} x2={x} y1={y} y2={y - (major ? 10 : 5)} stroke="#222" strokeWidth={1} />
      {showLabels && xLabelTicks.includes(v) && (
        <text x={x + (v === 0 ? -11 : 0)} y={y + 19} textAnchor="middle" fontSize={17} fontFamily={FONT} fill="#222">
          {String(v)}
        </text>
      )}
    </g>
  );
};

const makeYTick = (labels: number[], majorLen: number, minorLen: number) => (props: any) => {
  const { x, y, payload } = props;
  const v = payload.value as number;
  const major = labels.includes(v);
  return (
    <g>
      <line x1={x} x2={x + (major ? majorLen : minorLen)} y1={y} y2={y} stroke="#222" strokeWidth={1} />
      {major && (
        <text x={x - 6} y={y + 6} textAnchor="end" fontSize={17} fontFamily={FONT} fill="#222">
          {String(v)}
        </text>
      )}
    </g>
  );
};

type PanelProps = {
  left: number; top: number; width: number; height: number;
  margin: { top: number; right: number; bottom: number; left: number };
  xHeight: number; showXLabels: boolean;
  yDomain: [number, number]; yTicks: number[]; yLabels: number[];
  majorLen: number; minorLen: number;
  children: React.ReactNode;
};

function Panel(p: PanelProps) {
  return (
    <div style={{ position: 'absolute', left: p.left, top: p.top }}>
      <ComposedChart width={p.width} height={p.height} margin={p.margin}>
        <XAxis
          dataKey="t"
          type="number"
          domain={[0, 50]}
          ticks={xTicks}
          interval={0}
          allowDataOverflow
          height={p.xHeight}
          tickSize={0}
          tickMargin={0}
          tickLine={false}
          axisLine={{ stroke: '#222', strokeWidth: 1 }}
          tick={makeXTick(p.showXLabels)}
        />
        <YAxis
          type="number"
          domain={p.yDomain}
          ticks={p.yTicks}
          interval={0}
          allowDataOverflow
          width={50}
          tickSize={0}
          tickMargin={0}
          tickLine={false}
          axisLine={{ stroke: '#222', strokeWidth: 1 }}
          tick={makeYTick(p.yLabels, p.majorLen, p.minorLen)}
        />
        {p.children}
      </ComposedChart>
    </div>
  );
}

const DtLabel = ({ x, y, rest }: { x: number; y: number; rest: string }) => (
  <text x={x} y={y} textAnchor="end" fontSize={18} fontFamily={FONT} fill="#222">
    <tspan>Δ</tspan>
    <tspan fontStyle="italic">t</tspan>
    <tspan>{'\u2009=\u2009' + rest}</tspan>
  </text>
);

export default function App() {
  return (
    <div style={{ position: 'absolute', left: 0, top: 0, width: 634, height: 459, background: '#fff', overflow: 'hidden' }}>
      <Panel left={0} top={0} width={330} height={225} margin={{ top: 9, right: 10, bottom: 0, left: 3 }}
        xHeight={30} showXLabels={false} yDomain={[0, 0.2]} yTicks={dt1YTicks} yLabels={dt1YLabels} majorLen={7} minorLen={5.5}>
        {band(dt1Core, CORE, 'c1', 'linear')}
        {lines(dt1Grey, GREY, 0.9, 'g1-')}
        {lines(dt1Black, INK, 1.4, 'b1-')}
      </Panel>
      <Panel left={306} top={0} width={328} height={225} margin={{ top: 8, right: 7, bottom: 0, left: 5 }}
        xHeight={30} showXLabels={false} yDomain={[0, 0.5]} yTicks={dt7YTicks} yLabels={dt7YLabels} majorLen={11} minorLen={6.5}>
        {band(dt7Core, CORE, 'c7', 'linear')}
        {lines(dt7Grey, GREY, 0.9, 'g7-')}
        {lines(dt7Black, INK, 1.4, 'b7-')}
      </Panel>
      <Panel left={0} top={212} width={330} height={247} margin={{ top: 15, right: 10, bottom: 0, left: 3 }}
        xHeight={46} showXLabels={true} yDomain={[0, 3]} yTicks={dt28YTicks} yLabels={dt28YLabels} majorLen={8} minorLen={6}>
        {band(dt28Mass, '#161616', 'm28', 'monotone')}
        {band(dt28Hole, '#ffffff', 'h28', 'linear')}
        {band(dt28Lens, '#ffffff', 'l28', 'monotone')}
        {lines(dt28Gaps, '#ffffff', 1.2, 'w28-')}
        {lines(dt28Black, INK, 1.0, 'b28-')}
        {lines(dt28Grey, GREY, 0.8, 'g28-')}
      </Panel>
      <Panel left={306} top={212} width={328} height={247} margin={{ top: 15, right: 7, bottom: 0, left: 5 }}
        xHeight={46} showXLabels={true} yDomain={[0, 60]} yTicks={dt365YTicks} yLabels={dt365YLabels} majorLen={11} minorLen={6.5}>
        {band(dt365Mass, '#161616', 'm365', 'monotone')}
        {band(dt365Wedge, '#6e6e6e', 'w365', 'linear')}
        {lines(dt365Gaps, '#ffffff', 1.3, 'wg365-')}
        {lines(dt365Black, INK, 1.0, 'b365-')}
        {lines(dt365Grey, GREY, 0.8, 'g365-')}
      </Panel>
      <svg width={634} height={459} style={{ position: 'absolute', left: 0, top: 0, pointerEvents: 'none' }}>
        <text transform="translate(16,203) rotate(-90)" textAnchor="middle" fontSize={17} fontFamily={FONT} fill="#222">
          no. infected premises (×1000)
        </text>
        <text x={196} y={453} textAnchor="middle" fontSize={17} fontFamily={FONT} fill="#222">time (days)</text>
        <text x={503} y={453} textAnchor="middle" fontSize={17} fontFamily={FONT} fill="#222">time (days)</text>
        <DtLabel x={303} y={44} rest="1 day" />
        <DtLabel x={609} y={44} rest="7 days" />
        <DtLabel x={303} y={264} rest="28 days" />
        <DtLabel x={609} y={264} rest="365 days" />
      </svg>
    </div>
  );
}
